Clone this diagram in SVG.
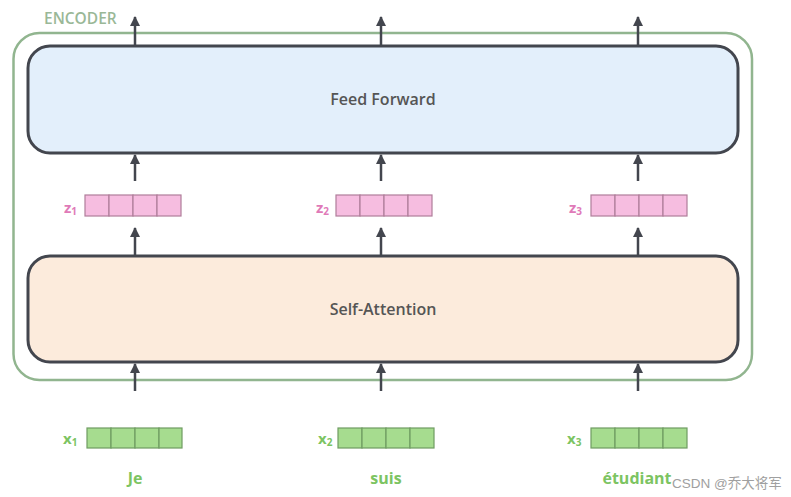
<svg xmlns="http://www.w3.org/2000/svg" width="791" height="497" viewBox="0 0 791 497">
  <defs>
    <marker id="ah" viewBox="0 0 10 10" refX="9" refY="5" markerWidth="4" markerHeight="4" orient="auto" markerUnits="strokeWidth">
      <path d="M0,0 L10,5 L0,10 z" fill="#43464e"/>
    </marker>
    <style>
      .conn { stroke: #43464e; stroke-width: 2.5; fill: none; marker-end: url(#ah); }
      .layer { stroke: #43464e; stroke-width: 3; }
      .ltext { font-family: "Open Sans", "Liberation Sans", sans-serif; font-size: 16px; font-weight: 600; fill: #555555; text-anchor: middle; }
      .zcell { fill: #f6bde0; stroke: #b07d9a; stroke-width: 1.2; }
      .xcell { fill: #a6dc8f; stroke: #6f9c62; stroke-width: 1.2; }
      .zlab { font-family: "Open Sans", "Liberation Sans", sans-serif; font-size: 15px; font-weight: bold; fill: #e07ab8; }
      .xlab { font-family: "Open Sans", "Liberation Sans", sans-serif; font-size: 15px; font-weight: bold; fill: #7cc462; }
      .word { font-family: "Open Sans", "Liberation Sans", sans-serif; font-size: 16px; font-weight: bold; fill: #7cc462; text-anchor: middle; }
      .sub { font-size: 10px; }
    </style>
  </defs>

  <rect width="791" height="497" fill="#ffffff"/>

  <g id="encoder">
    <rect x="13.5" y="33" width="738.5" height="347" rx="26" fill="none" stroke="#91b58f" stroke-width="2.5"/>
    <text x="44" y="24" font-family="Open Sans, Liberation Sans, sans-serif" font-size="15.5" font-weight="600" fill="#9ab897">ENCODER</text>
  </g>

  <g id="feed-forward">
    <rect class="layer" x="28" y="46" width="710" height="107" rx="22" fill="#e3effb"/>
    <text class="ltext" x="383" y="105">Feed Forward</text>
  </g>

  <g id="self-attention">
    <rect class="layer" x="28" y="256" width="710" height="106" rx="22" fill="#fcebdc"/>
    <text class="ltext" x="383" y="315">Self-Attention</text>
  </g>

  <g id="z1">
    <text class="zlab" x="64" y="213">z<tspan class="sub" dy="2">1</tspan></text>
    <rect class="zcell" x="85" y="195" width="24" height="21"/>
    <rect class="zcell" x="109" y="195" width="24" height="21"/>
    <rect class="zcell" x="133" y="195" width="24" height="21"/>
    <rect class="zcell" x="157" y="195" width="24" height="21"/>
  </g>
  <g id="z2">
    <text class="zlab" x="316" y="213">z<tspan class="sub" dy="2">2</tspan></text>
    <rect class="zcell" x="336" y="195" width="24" height="21"/>
    <rect class="zcell" x="360" y="195" width="24" height="21"/>
    <rect class="zcell" x="384" y="195" width="24" height="21"/>
    <rect class="zcell" x="408" y="195" width="24" height="21"/>
  </g>
  <g id="z3">
    <text class="zlab" x="569" y="213">z<tspan class="sub" dy="2">3</tspan></text>
    <rect class="zcell" x="591" y="195" width="24" height="21"/>
    <rect class="zcell" x="615" y="195" width="24" height="21"/>
    <rect class="zcell" x="639" y="195" width="24" height="21"/>
    <rect class="zcell" x="663" y="195" width="24" height="21"/>
  </g>

  <g id="x1">
    <text class="xlab" x="63" y="444">x<tspan class="sub" dy="2">1</tspan></text>
    <rect class="xcell" x="87" y="428" width="24" height="20"/>
    <rect class="xcell" x="111" y="428" width="24" height="20"/>
    <rect class="xcell" x="135" y="428" width="24" height="20"/>
    <rect class="xcell" x="159" y="428" width="23" height="20"/>
    <text class="word" x="135" y="484">Je</text>
  </g>
  <g id="x2">
    <text class="xlab" x="318" y="444">x<tspan class="sub" dy="2">2</tspan></text>
    <rect class="xcell" x="338" y="428" width="24" height="20"/>
    <rect class="xcell" x="362" y="428" width="24" height="20"/>
    <rect class="xcell" x="386" y="428" width="24" height="20"/>
    <rect class="xcell" x="410" y="428" width="24" height="20"/>
    <text class="word" x="386" y="484">suis</text>
  </g>
  <g id="x3">
    <text class="xlab" x="567" y="444">x<tspan class="sub" dy="2">3</tspan></text>
    <rect class="xcell" x="591" y="428" width="24" height="20"/>
    <rect class="xcell" x="615" y="428" width="24" height="20"/>
    <rect class="xcell" x="639" y="428" width="24" height="20"/>
    <rect class="xcell" x="663" y="428" width="24" height="20"/>
    <text class="word" x="637" y="484">étudiant</text>
  </g>

  <g id="connectors">
    <line class="conn" x1="135" y1="46" x2="135" y2="17"/>
    <line class="conn" x1="381" y1="46" x2="381" y2="17"/>
    <line class="conn" x1="638" y1="46" x2="638" y2="17"/>
    <line class="conn" x1="135" y1="181" x2="135" y2="155"/>
    <line class="conn" x1="381" y1="181" x2="381" y2="155"/>
    <line class="conn" x1="638" y1="181" x2="638" y2="155"/>
    <line class="conn" x1="135" y1="255" x2="135" y2="228"/>
    <line class="conn" x1="381" y1="255" x2="381" y2="228"/>
    <line class="conn" x1="638" y1="255" x2="638" y2="228"/>
    <line class="conn" x1="135" y1="391" x2="135" y2="364"/>
    <line class="conn" x1="381" y1="391" x2="381" y2="364"/>
    <line class="conn" x1="638" y1="391" x2="638" y2="364"/>
  </g>

  <text x="672" y="488" font-family="Liberation Sans, Noto Sans CJK SC, sans-serif" font-size="13.5" fill="#a0a0a0">CSDN @乔大将军</text>
</svg>
